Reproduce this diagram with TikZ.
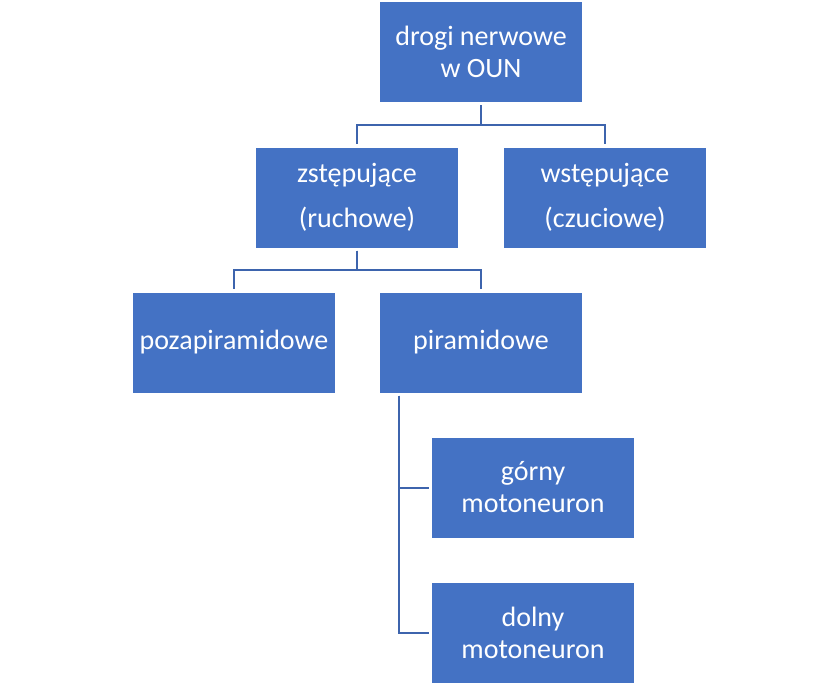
\documentclass[tikz,border=0pt]{standalone}
\usepackage{fontspec}
\setmainfont{Carlito}
\definecolor{boxblue}{HTML}{4472C4}
\definecolor{linkblue}{HTML}{3D64AD}
\begin{document}
\begin{tikzpicture}[x=1pt,y=-1pt,
  box/.style={rectangle,fill=boxblue,text=white,minimum width=202pt,minimum height=100pt,
    inner sep=0pt,align=center,font=\fontsize{28pt}{32pt}\selectfont},
  widebox/.style={box,font=\fontsize{28pt}{45pt}\selectfont},
  link/.style={draw=linkblue,line width=2pt,shorten <=3pt,shorten >=3pt}]
\useasboundingbox (0,0) rectangle (839,685);
\node[box] (root) at (481,52) {drogi nerwowe\\w OUN};
\node[widebox] (zst) at (357,197.5) {zstępujące\\(ruchowe)};
\node[widebox] (wst) at (605,197.5) {wstępujące\\(czuciowe)};
\node[box] (poza) at (234,342.5) {pozapiramidowe};
\node[box] (pir) at (481,342.5) {piramidowe};
\node[box] (gor) at (533,487.5) {górny\\motoneuron};
\node[box] (dol) at (533,633) {dolny\\motoneuron};
\draw[link] (root.south) |- (357,125) -| (zst.north);
\draw[link] (root.south) |- (605,125) -| (wst.north);
\draw[link] (zst.south) |- (234,270) -| (poza.north);
\draw[link] (zst.south) |- (481,270) -| (pir.north);
\draw[link] ([xshift=-82pt]pir.south) |- (gor.west);
\draw[link] ([xshift=-82pt]pir.south) |- (dol.west);
\end{tikzpicture}
\end{document}
